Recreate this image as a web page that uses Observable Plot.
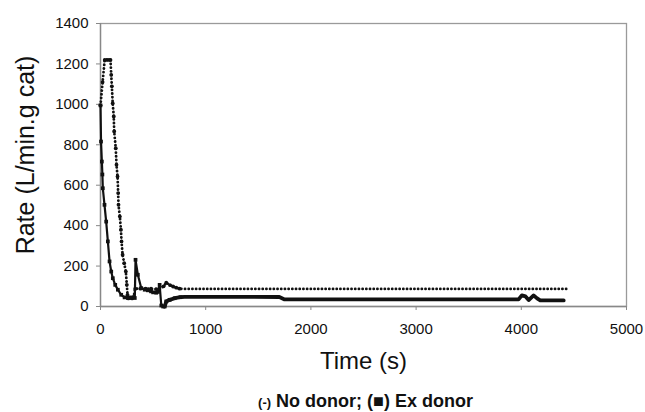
<!DOCTYPE html>
<html>
<head>
<meta charset="utf-8">
<script src="https://cdn.jsdelivr.net/npm/d3@7"></script>
<script src="https://cdn.jsdelivr.net/npm/@observablehq/plot@0.6"></script>
<style>
  html, body { margin: 0; padding: 0; background: #fff; }
  #wrap { position: relative; width: 645px; height: 412px; font-family: "Liberation Sans", Arial, sans-serif; }
  #caption { position: absolute; left: 0; width: 645px; top: 391px; text-align: center; font-weight: bold; font-size: 18px; color: #111; padding-left: 86px; box-sizing: border-box; line-height: 20px; }
  #caption .s { font-size: 13px; }
</style>
</head>
<body>
<div id="wrap"><div id="chart"></div><div id="caption"><span class="s">(-)</span> No donor; (■) Ex donor</div></div>
<script>
// No donor (dotted line, round markers)
const noDonorTime = [0, 20, 40, 60, 80, 95, 102, 108, 116, 126, 130, 145, 152, 162, 168, 171, 184, 194, 200, 210, 225, 241, 250, 257, 265, 280, 300, 315, 330, 380, 430, 480, 530, 560, 600, 625, 660, 689, 720, 752, 800, 1000, 2000, 3000, 4000, 4435];
const noDonorRate = [995, 1110, 1220, 1220, 1220, 1220, 1146, 1089, 1006, 940, 866, 783, 701, 643, 561, 503, 445, 380, 322, 256, 214, 173, 107, 58, 40, 42, 40, 48, 88, 88, 88, 88, 86, 88, 100, 118, 106, 99, 93, 88, 87, 87, 87, 87, 87, 87];

// Ex donor (solid line, square markers)
const exTime = [0, 5, 13, 18, 22, 38, 54, 70, 86, 102, 117, 140, 165, 197, 229, 260, 290, 326, 333, 355, 387, 420, 450, 480, 500, 530, 545, 562, 578, 595, 610, 625, 657, 705, 760, 800, 1000, 1300, 1700, 1750, 2500, 3000, 3974, 4005, 4040, 4070, 4117, 4150, 4180, 4300, 4403];
const exRate = [995, 816, 717, 653, 585, 503, 420, 322, 223, 173, 140, 107, 83, 58, 45, 42, 45, 42, 231, 157, 91, 83, 80, 75, 70, 68, 72, 107, 5, 0, 0, 25, 33, 41, 46, 48, 48, 48, 47, 35, 35, 35, 35, 55, 50, 32, 55, 40, 30, 30, 30];

const xTicks = [0, 1000, 2000, 3000, 4000, 5000];
const yTicks = [0, 200, 400, 600, 800, 1000, 1200, 1400];
const xTitle = "Time (s)";
const yTitle = "Rate (L/min.g cat)";

const noDonor = noDonorTime.map((t, i) => ({t, r: noDonorRate[i]}));
const exDonor = exTime.map((t, i) => ({t, r: exRate[i]}));

const font = "'Liberation Sans', Arial, sans-serif";
const fmt = d3.format("d");

const chart = Plot.plot({
  width: 645,
  height: 388,
  marginLeft: 100,
  marginRight: 19,
  marginTop: 23,
  marginBottom: 82,
  style: {fontFamily: font, fontSize: "15px", color: "#111", background: "#fff"},
  x: {domain: [0, 5000], ticks: xTicks},
  y: {domain: [0, 1400], ticks: yTicks},
  marks: [
    Plot.frame({stroke: "#9a9a9a", strokeWidth: 1.3}),
    Plot.axisX({ticks: xTicks, tickFormat: fmt, tickSize: 4, tickPadding: 13, label: null, stroke: "#888", fontSize: 15}),
    Plot.axisY({ticks: yTicks, tickFormat: fmt, tickSize: 4, tickPadding: 8, label: null, stroke: "#888", fontSize: 15}),
    Plot.ruleX([0], {stroke: "#888", strokeWidth: 1.3}),
    Plot.ruleY([0], {stroke: "#888", strokeWidth: 1.3}),
    // No donor: dotted
    Plot.line(noDonor, {x: "t", y: "r", stroke: "#111", strokeWidth: 2.8, strokeDasharray: "0.1,3.6", strokeLinecap: "round"}),
    Plot.dot(noDonor.filter(d => d.t < 800), {x: "t", y: "r", r: 1.9, fill: "#111", stroke: "none"}),
    // Ex donor: solid with squares
    Plot.line(exDonor, {x: "t", y: "r", stroke: "#111", strokeWidth: 2.2}),
    Plot.dot(exDonor.filter(d => d.t < 800), {x: "t", y: "r", r: 2.1, symbol: "square", fill: "#111", stroke: "none"}),
    Plot.line(exDonor.filter(d => d.t >= 600), {x: "t", y: "r", stroke: "#111", strokeWidth: 3.8}),
    Plot.text([xTitle], {frameAnchor: "bottom", dy: 62, fontSize: 24, fill: "#111", fontFamily: font}),
    Plot.text([yTitle], {frameAnchor: "left", textAnchor: "middle", dx: -75, dy: -10, rotate: -90, fontSize: 25, fill: "#111", fontFamily: font})
  ]
});
document.getElementById("chart").appendChild(chart);
</script>
</body>
</html>
